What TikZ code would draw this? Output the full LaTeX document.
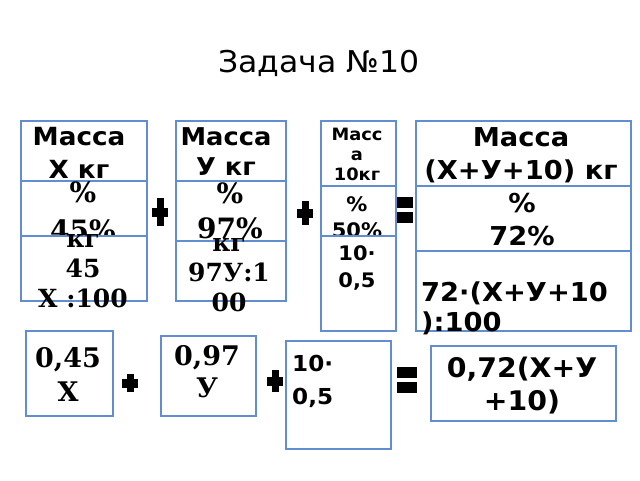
\documentclass[tikz,border=0pt]{standalone}
\usepackage{fontspec}
\setmainfont{DejaVu Serif}
\setsansfont{DejaVu Sans}[FakeStretch=1.05]
\usetikzlibrary{positioning}
\definecolor{boxblue}{RGB}{98,141,207}
\newcommand{\fsz}[2]{\fontsize{#1}{#2}\selectfont}

\begin{document}
\begin{tikzpicture}[x=1pt, y=-1pt,
  cell/.style={draw=boxblue, line width=1.5pt, fill=white, anchor=north west, inner sep=0pt},
  sanslbl/.style={font=\sffamily\bfseries\fsz#1, inner sep=0pt, align=center, anchor=north},
  seriflbl/.style={font=\rmfamily\bfseries\fsz#1, inner sep=0pt, align=center, anchor=north}]

  \useasboundingbox (0,0) rectangle (640,480);

  % Title
  \node[font=\sffamily\fsz{30}{36}, anchor=base] (title) at (319,72) {Задача №10};

  % Column X
  \node[cell, minimum width=126, minimum height=60] (m1) at (20,120) {};
  \node[sanslbl={{25}{33}}] (tm1) at (79,127) {Масса\\Х кг};
  \node[cell, minimum width=126, minimum height=55] (p1) at (20,180) {};
  \node[seriflbl={{28}{38}}] (tp1) at (83,182) {\%\\45\%};
  \node[cell, minimum width=126, minimum height=65] (k1) at (20,235) {};
  \node[seriflbl={{25}{30}}] (tk1) at (83,234) {кг\\45\\Х :100};

  % Column Y
  \node[cell, minimum width=110, minimum height=60] (m2) at (175,120) {};
  \node[sanslbl={{24.5}{30}}] (tm2) at (226,127) {Масса\\У кг};
  \node[cell, minimum width=110, minimum height=60] (p2) at (175,180) {};
  \node[seriflbl={{28}{35}}] (tp2) at (230,183) {\%\\97\%};
  \node[cell, minimum width=110, minimum height=60] (k2) at (175,240) {};
  \node[seriflbl={{25}{30}}] (tk2) at (229,238) {кг\\97У:1\\00};

  % Column 10
  \node[cell, minimum width=75, minimum height=65] (m3) at (320,120) {};
  \node[sanslbl={{17}{20}}] (tm3) at (357,128) {Масс\\а\\10кг};
  \node[cell, minimum width=75, minimum height=50] (p3) at (320,185) {};
  \node[sanslbl={{20}{26}}] (tp3) at (357,196) {\%\\50\%};
  \node[cell, minimum width=75, minimum height=95] (k3) at (320,235) {};
  \node[sanslbl={{20}{27}}] (tk3) at (357,245) {10·\\0,5};

  % Column sum
  \node[cell, minimum width=215, minimum height=65] (m4) at (415,120) {};
  \node[sanslbl={{26}{33}}] (tm4) at (521,127) {Масса\\(Х+У+10) кг};
  \node[cell, minimum width=215, minimum height=65] (p4) at (415,185) {};
  \node[sanslbl={{26}{33}}] (tp4) at (522,193) {\%\\72\%};
  \node[cell, minimum width=215, minimum height=80] (k4) at (415,250) {};
  \node[sanslbl={{26}{30}}, align=left, anchor=north west] (tk4) at (421,282) {72·(Х+У+10\\):100};

  % Equation
  \node[cell, minimum width=87, minimum height=85] (ea) at (25,330) {};
  \node[seriflbl={{27}{34}}] (tea) at (68,347) {0,45\\Х};
  \node[cell, minimum width=95, minimum height=80] (eb) at (160,335) {};
  \node[seriflbl={{27}{32}}] (teb) at (207,345) {0,97\\У};
  \node[cell, minimum width=105, minimum height=108] (ec) at (285,340) {};
  \node[sanslbl={{22}{33}}, align=left, anchor=north west] (tec) at (292,355) {10·\\0,5};
  \node[cell, minimum width=185, minimum height=75] (ed) at (430,345) {};
  \node[sanslbl={{27}{33}}] (ted) at (522,357) {0,72(Х+У\\+10)};

  % Plus signs
  \foreach \px/\py/\ph in {160/212/14, 305/213/12, 130/383/9, 275/381/11} {
    \fill (\px-3.5,\py-\ph) rectangle (\px+3.5,\py+\ph);
    \fill (\px-8,\py-4.5) rectangle (\px+8,\py+4.5);
  }

  % Equals signs
  \foreach \ex/\ey/\ew in {405/210/8, 407/380/10} {
    \fill (\ex-\ew,\ey-13) rectangle (\ex+\ew,\ey-2);
    \fill (\ex-\ew,\ey+2) rectangle (\ex+\ew,\ey+13);
  }

\end{tikzpicture}
\end{document}
